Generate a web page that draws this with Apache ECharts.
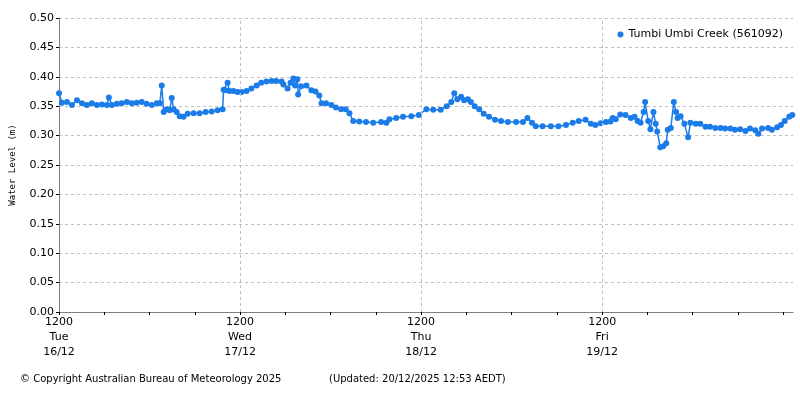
<!DOCTYPE html>
<html>
<head>
<meta charset="utf-8">
<script src="https://cdn.jsdelivr.net/npm/echarts@6/dist/echarts.min.js"></script>
<style>html,body{margin:0;padding:0;background:#fff}#chart{width:800px;height:400px}</style>
</head>
<body>
<div id="chart"></div>
<script>
// hours after 12:00 Tue 16/12/2025
const hoursFromStart = [0,0.4,1.06,1.72,2.38,3.04,3.7,4.36,5.02,5.69,6.35,6.61,7.0,7.67,8.33,9.0,9.65,10.3,10.97,11.6,12.3,12.96,13.36,13.62,13.88,14.28,14.68,14.94,15.2,15.6,16.0,16.5,17.06,17.85,18.64,19.44,20.23,21.02,21.69,21.82,22.08,22.35,22.6,23.14,23.67,24.2,24.86,25.5,26.2,26.8,27.5,28.2,28.8,29.5,29.75,30.3,30.7,31.07,31.3,31.6,31.7,32.1,32.8,33.45,34.0,34.5,34.8,35.4,36.1,36.7,37.4,38.0,38.5,39.0,39.8,40.7,41.65,42.7,43.4,43.8,44.7,45.6,46.7,47.7,48.7,49.6,50.6,51.4,52.0,52.4,52.8,53.3,53.7,54.2,54.6,55.1,55.7,56.3,57.0,57.8,58.6,59.5,60.6,61.5,62.1,62.7,63.2,64.1,65.2,66.2,67.2,68.1,68.9,69.8,70.5,71.1,71.8,72.5,73.1,73.4,73.8,74.4,75.1,75.8,76.3,76.7,77.1,77.5,77.7,78.1,78.4,78.8,79.1,79.3,79.7,80.1,80.5,80.7,81.1,81.5,81.8,82.0,82.4,82.9,83.4,83.7,84.4,85.0,85.7,86.3,87.0,87.7,88.3,89.0,89.6,90.3,91.0,91.6,92.3,92.7,93.2,94.0,94.5,95.2,95.7,96.2,96.8,97.2];
const waterLevel = [.372,.356,.357,.352,.360,.355,.352,.355,.352,.353,.352,.365,.352,.354,.355,.357,.355,.356,.357,.354,.352,.355,.355,.385,.340,.345,.343,.364,.345,.340,.333,.332,.337,.338,.338,.340,.341,.343,.345,.378,.377,.390,.376,.376,.374,.374,.376,.380,.385,.390,.392,.393,.393,.392,.387,.380,.390,.397,.385,.396,.370,.384,.385,.377,.375,.368,.355,.355,.352,.348,.345,.345,.338,.325,.324,.323,.322,.323,.322,.328,.330,.332,.333,.335,.345,.344,.344,.350,.357,.372,.362,.366,.360,.362,.357,.350,.345,.337,.332,.327,.325,.323,.323,.323,.330,.322,.316,.316,.316,.316,.318,.322,.325,.327,.320,.318,.321,.323,.324,.330,.328,.336,.335,.330,.332,.325,.322,.340,.357,.325,.311,.340,.320,.307,.280,.282,.287,.310,.313,.357,.340,.330,.333,.320,.297,.322,.320,.320,.315,.315,.313,.313,.312,.312,.310,.311,.308,.312,.309,.303,.312,.313,.310,.314,.318,.325,.332,.335];
const dayLabels = {0:'1200\nTue\n16/12', 24:'1200\nWed\n17/12', 48:'1200\nThu\n18/12', 72:'1200\nFri\n19/12'};
const seriesName = 'Tumbi Umbi Creek (561092)';

const font = 'DejaVu Sans';
const chart = echarts.init(document.getElementById('chart'));
chart.setOption({
  animation: false,
  textStyle: {fontFamily: font},
  grid: {left: 57, right: 7, top: 18, bottom: 88},
  legend: {
    right: 12, top: 24, itemWidth: 6, itemHeight: 6, itemGap: 4, icon: 'circle',
    textStyle: {fontFamily: font, fontSize: 11, color: '#000'},
    data: [seriesName]
  },
  xAxis: {
    type: 'value', min: 0, max: 97.3, interval: 6,
    axisLine: {lineStyle: {color: '#808080'}},
    axisTick: {lineStyle: {color: '#000'}, length: 3},
    axisLabel: {
      showMaxLabel: false, margin: 3, lineHeight: 15,
      fontFamily: font, fontSize: 11, color: '#000',
      formatter: v => dayLabels[v] || ''
    },
    splitLine: {show: false}
  },
  yAxis: {
    type: 'value', min: 0, max: 0.5, interval: 0.05,
    name: 'Water Level (m)', nameLocation: 'middle', nameGap: 42,
    nameTextStyle: {fontFamily: 'DejaVu Sans Mono', fontSize: 9, color: '#000'},
    axisLine: {show: true, lineStyle: {color: '#808080'}},
    axisTick: {show: true, length: 3, lineStyle: {color: '#000'}},
    axisLabel: {fontFamily: font, fontSize: 11, color: '#000', margin: 5, formatter: v => v.toFixed(2)},
    splitLine: {lineStyle: {color: '#c0c0c0', type: [3, 3]}}
  },
  series: [{
    name: seriesName, type: 'line',
    data: hoursFromStart.map((h, i) => [h, waterLevel[i]]),
    symbol: 'circle', symbolSize: 6, showSymbol: true,
    itemStyle: {color: '#1b7ce8'},
    lineStyle: {width: 1.5, color: '#1b7ce8'},
    markLine: {
      silent: true, symbol: 'none', label: {show: false},
      lineStyle: {color: '#c0c0c0', type: [3, 3], width: 1},
      data: [{xAxis: 24}, {xAxis: 48}, {xAxis: 72}]
    }
  }],
  graphic: [
    {type: 'text', left: 20, top: 374, style: {text: '\u00a9 Copyright Australian Bureau of Meteorology 2025', font: '10px "DejaVu Sans"', fill: '#000'}},
    {type: 'text', left: 329, top: 374, style: {text: '(Updated: 20/12/2025 12:53 AEDT)', font: '10px "DejaVu Sans"', fill: '#000'}}
  ]
});
</script>
</body>
</html>
